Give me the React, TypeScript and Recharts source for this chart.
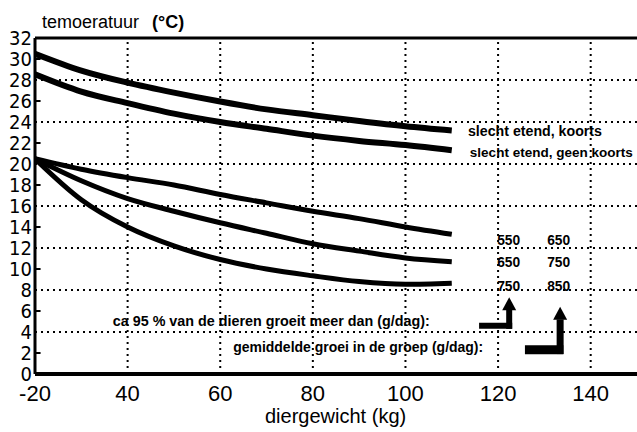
import React from 'react'
import { LineChart, Line, XAxis, YAxis, ReferenceLine, ReferenceDot } from 'recharts'

// diergewicht (kg)
const weights = [20, 30, 40, 50, 60, 70, 80, 90, 100, 110]

// temperatuur (°C) per curve
const slechtKoorts = [30.5, 28.9, 27.75, 26.8, 25.95, 25.2, 24.65, 24.1, 23.6, 23.2]
const slechtGeenKoorts = [28.55, 26.9, 25.8, 24.8, 24.0, 23.35, 22.7, 22.2, 21.8, 21.3]
const groei550 = [20.5, 19.5, 18.7, 18.0, 17.1, 16.3, 15.5, 14.8, 14.0, 13.3]
const groei650 = [20.5, 18.4, 16.7, 15.5, 14.4, 13.4, 12.4, 11.7, 11.05, 10.7]
const groei750 = [20.5, 16.6, 14.0, 12.2, 10.9, 10.0, 9.35, 8.8, 8.55, 8.65]

const xTicks = [20, 40, 60, 80, 100, 120, 140]
const xTickLabels = ['-20', '40', '60', '80', '100', '120', '140']
const yTicks = [0, 2, 4, 6, 8, 10, 12, 14, 16, 18, 20, 22, 24, 26, 28, 30, 32]
const xGrid = [40, 60, 80, 100, 120, 140]
const yGrid = [4, 8, 12, 16, 20, 24, 28]
const yMinor = [2, 6, 10, 14, 18, 22, 26, 30]

const groeiMin = ['550', '650', '750']
const groeiGem = ['650', '750', '850']

const data = weights.map((w, i) => ({
  w,
  k: slechtKoorts[i],
  gk: slechtGeenKoorts[i],
  g1: groei550[i],
  g2: groei650[i],
  g3: groei750[i],
}))

const SANS = '"Liberation Sans", Arial, sans-serif'

const label = (text: string, len: number, size = 14) => (p: any) => (
  <text
    x={p.cx}
    y={p.cy}
    fontFamily={SANS}
    fontWeight="bold"
    fontSize={size}
    fill="#000"
    textLength={len}
    lengthAdjust="spacingAndGlyphs"
  >
    {text}
  </text>
)

const arrowHead = (p: any) => (
  <polygon
    points={`${p.cx},${p.cy} ${p.cx - 7},${p.cy + 13} ${p.cx + 7},${p.cy + 13}`}
    fill="#000"
  />
)

const rows = [12.3, 10.2, 7.9]

export default function App() {
  return (
    <div style={{ position: 'absolute', left: 0, top: 0, width: 637, height: 432, background: '#fff' }}>
      <LineChart width={637} height={432} data={data} margin={{ top: 38, right: 0, bottom: 0, left: 0 }}>
        <XAxis
          dataKey="w"
          type="number"
          domain={[20, 150]}
          ticks={xTicks}
          tickFormatter={(v: number) => xTickLabels[xTicks.indexOf(v)]}
          height={58}
          tickSize={0}
          tickMargin={11}
          axisLine={{ stroke: '#000', strokeWidth: 4 }}
          tickLine={false}
          tick={{ fill: '#000', fontSize: 22, fontFamily: SANS }}
          allowDataOverflow
        />
        <YAxis
          type="number"
          domain={[0, 32]}
          ticks={yTicks}
          interval={0}
          width={35}
          tickSize={0}
          tickMargin={3}
          axisLine={{ stroke: '#000', strokeWidth: 3 }}
          tickLine={false}
          tick={{ fill: '#000', fontSize: 20, fontFamily: '"DejaVu Sans Condensed", "DejaVu Sans", sans-serif' }}
        />
        {xGrid.map((x) => (
          <ReferenceLine key={'vx' + x} x={x} stroke="#000" strokeWidth={2} strokeDasharray="2 4" />
        ))}
        {yGrid.map((y) => (
          <ReferenceLine key={'hy' + y} y={y} stroke="#000" strokeWidth={2} strokeDasharray="2 4" />
        ))}
        {yMinor.map((y) => (
          <ReferenceLine
            key={'mt' + y}
            segment={[{ x: 20, y }, { x: 21.2, y }]}
            stroke="#000"
            strokeWidth={2}
          />
        ))}
        <ReferenceLine y={32} stroke="#000" strokeWidth={3} />

        <Line dataKey="k" stroke="#000" strokeWidth={6} dot={false} isAnimationActive={false} type="monotone" />
        <Line dataKey="gk" stroke="#000" strokeWidth={6} dot={false} isAnimationActive={false} type="monotone" />
        <Line dataKey="g1" stroke="#000" strokeWidth={5} dot={false} isAnimationActive={false} type="monotone" />
        <Line dataKey="g2" stroke="#000" strokeWidth={5} dot={false} isAnimationActive={false} type="monotone" />
        <Line dataKey="g3" stroke="#000" strokeWidth={5} dot={false} isAnimationActive={false} type="monotone" />

        <ReferenceDot x={113.5} y={22.7} r={0} shape={label('slecht etend, koorts', 134)} />
        <ReferenceDot x={113.9} y={20.7} r={0} shape={label('slecht etend, geen koorts', 163, 13.5)} />
        {rows.map((y, i) => (
          <ReferenceDot key={'gm' + i} x={119.8} y={y} r={0} shape={label(groeiMin[i], 23)} />
        ))}
        {rows.map((y, i) => (
          <ReferenceDot key={'gg' + i} x={130.6} y={y} r={0} shape={label(groeiGem[i], 23)} />
        ))}
        <ReferenceDot
          x={36.8}
          y={4.6}
          r={0}
          shape={label('ca 95 % van de dieren groeit meer dan (g/dag):', 317)}
        />
        <ReferenceDot x={62.8} y={2.1} r={0} shape={label('gemiddelde groei in de groep (g/dag):', 250)} />

        <ReferenceLine segment={[{ x: 115.9, y: 4.6 }, { x: 123.05, y: 4.6 }]} stroke="#000" strokeWidth={6} />
        <ReferenceLine segment={[{ x: 122.4, y: 4.3 }, { x: 122.4, y: 6.3 }]} stroke="#000" strokeWidth={6} />
        <ReferenceDot x={122.4} y={7.3} r={0} shape={arrowHead} />
        <ReferenceLine segment={[{ x: 125.8, y: 2.3 }, { x: 134.1, y: 2.3 }]} stroke="#000" strokeWidth={9} />
        <ReferenceLine segment={[{ x: 133.4, y: 1.9 }, { x: 133.4, y: 5.2 }]} stroke="#000" strokeWidth={7} />
        <ReferenceDot x={133.4} y={6.4} r={0} shape={arrowHead} />
      </LineChart>
      <svg
        width={637}
        height={432}
        style={{ position: 'absolute', left: 0, top: 0, pointerEvents: 'none' }}
      >
        <text x={139} y={28} textAnchor="end" fontFamily={SANS} fontSize={18} fill="#000">
          temoeratuur
        </text>
        <text x={152} y={28} fontFamily={SANS} fontWeight="bold" fontSize={18} fill="#000">
          (°C)
        </text>
        <text x={265} y={423} fontFamily={SANS} fontSize={20} fill="#000">
          diergewicht (kg)
        </text>
      </svg>
    </div>
  )
}
